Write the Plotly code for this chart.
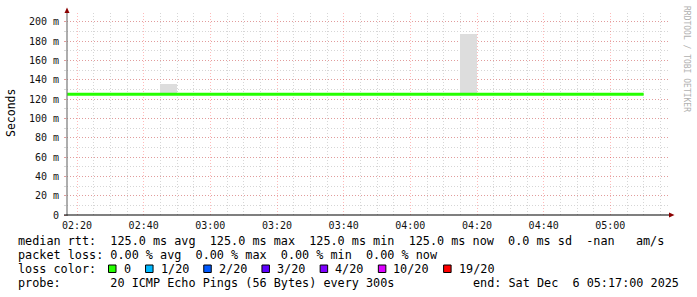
import plotly.graph_objects as go
import pandas as pd

DAY = "2025-12-06 "

# interval start times (5-minute RRD steps)
interval_start = ["02:15", "02:20", "02:25", "02:30", "02:35", "02:40", "02:45", "02:50",
                  "02:55", "03:00", "03:05", "03:10", "03:15", "03:20", "03:25", "03:30",
                  "03:35", "03:40", "03:45", "03:50", "03:55", "04:00", "04:05", "04:10",
                  "04:15", "04:20", "04:25", "04:30", "04:35", "04:40", "04:45", "04:50",
                  "04:55", "05:00", "05:05"]
median_ms = [125.0, 125.0, 125.0, 125.0, 125.0, 125.0, 125.0, 125.0,
             125.0, 125.0, 125.0, 125.0, 125.0, 125.0, 125.0, 125.0,
             125.0, 125.0, 125.0, 125.0, 125.0, 125.0, 125.0, 125.0,
             125.0, 125.0, 125.0, 125.0, 125.0, 125.0, 125.0, 125.0,
             125.0, 125.0, 125.0]
smoke_min_ms = [125.0] * 35
smoke_max_ms = [125.0, 125.0, 125.0, 125.0, 125.0, 125.0, 135.7, 125.0,
                125.0, 125.0, 125.0, 125.0, 125.0, 125.0, 125.0, 125.0,
                125.0, 125.0, 125.0, 125.0, 125.0, 125.0, 125.0, 125.0,
                187.5, 125.0, 125.0, 125.0, 125.0, 125.0, 125.0, 125.0,
                125.0, 125.0, 125.0]
step_minutes = 5

y_tickvals = [0, 20, 40, 60, 80, 100, 120, 140, 160, 180, 200]
y_ticktext = ["0", "20 m", "40 m", "60 m", "80 m", "100 m", "120 m", "140 m",
              "160 m", "180 m", "200 m"]

loss_labels = ["0", "1/20", "2/20", "3/20", "4/20", "10/20", "19/20"]
loss_colors = ["#26ff00", "#00b8ff", "#0059ff", "#5e00ff", "#7e00ff", "#dd00ff", "#ff0000"]

legend_rtt = "median rtt:  125.0 ms avg  125.0 ms max  125.0 ms min  125.0 ms now  0.0 ms sd  -nan   am/s"
legend_loss = "packet loss: 0.00 % avg  0.00 % max  0.00 % min  0.00 % now"
legend_probe = "probe:       20 ICMP Echo Pings (56 Bytes) every 300s"
legend_end = "end: Sat Dec  6 05:17:00 2025"

x_start = pd.Timestamp(DAY + "02:17:00")
x_end = pd.Timestamp(DAY + "05:17:36")

starts = pd.to_datetime([DAY + t for t in interval_start])
step = pd.Timedelta(minutes=step_minutes)
centers = starts + step / 2
line_x = list(starts) + [starts[-1] + step]
line_y = list(median_ms) + [median_ms[-1]]

W, H = 697, 297
L, R, T, B = 67, 28, 13, 82
PW, PH = W - L - R, H - T - B


def px(x):
    return (x - L) / PW


def py(y):
    return (H - B - y) / PH


MONO = "DejaVu Sans Mono"

fig = go.Figure()
fig.add_trace(go.Bar(
    x=centers, y=[a - b for a, b in zip(smoke_max_ms, smoke_min_ms)], base=smoke_min_ms,
    width=step.total_seconds() * 1000, marker=dict(color="#dddddd", line=dict(width=0)),
    showlegend=False, hoverinfo="skip"))
fig.add_trace(go.Scatter(
    x=line_x, y=line_y, mode="lines", line=dict(color="#26ff00", width=3, shape="hv"),
    showlegend=False))

grid_dash = "1px,2px"
MAJ = "rgba(255,0,0,0.27)"
MIN = "#d6d6d6"
fig.update_xaxes(
    type="date", range=[x_start, x_end], tickformat="%H:%M",
    tick0=DAY + "02:20:00", dtick=20 * 60 * 1000,
    showgrid=True, gridcolor=MAJ, griddash=grid_dash, gridwidth=1,
    minor=dict(dtick=5 * 60 * 1000, tick0=DAY + "02:20:00", showgrid=True,
               gridcolor=MIN, griddash=grid_dash, gridwidth=1),
    showline=False, zeroline=False, ticks="", ticklabelstandoff=3,
    tickfont=dict(family=MONO, size=10, color="#111"), fixedrange=True)
fig.update_yaxes(
    range=[0, 209.3], tickvals=y_tickvals, ticktext=y_ticktext,
    showgrid=True, gridcolor=MAJ, griddash=grid_dash, gridwidth=1,
    minor=dict(dtick=10, tick0=0, showgrid=True, gridcolor=MIN,
               griddash=grid_dash, gridwidth=1, ticks="outside", ticklen=2,
               tickcolor=MIN),
    ticks="outside", ticklen=2, tickcolor=MAJ, ticklabelstandoff=3,
    showline=False, zeroline=False,
    tickfont=dict(family=MONO, size=10, color="#111"), fixedrange=True)

shapes = []
# axis lines
shapes.append(dict(type="line", xref="paper", yref="paper", x0=px(67), x1=px(67),
                   y0=py(216), y1=py(12), line=dict(color="#777777", width=1.2)))
shapes.append(dict(type="line", xref="paper", yref="paper", x0=px(64), x1=px(671),
                   y0=py(215), y1=py(215), line=dict(color="#000000", width=1.2)))
# arrows
shapes.append(dict(type="path", xref="paper", yref="paper",
                   path=f"M {px(64.5)} {py(13)} L {px(69.5)} {py(13)} L {px(67)} {py(7.5)} Z",
                   fillcolor="#8b0000", line=dict(width=0)))
shapes.append(dict(type="path", xref="paper", yref="paper",
                   path=f"M {px(669)} {py(212.5)} L {px(669)} {py(217.5)} L {px(674.5)} {py(215)} Z",
                   fillcolor="#8b0000", line=dict(width=0)))

annotations = []
NB = "\u00a0"
LEG_FONT = dict(family=MONO, size=11.8, color="#000")


def add_text(x, y, text, anchor="left", font=LEG_FONT, angle=0):
    annotations.append(dict(xref="paper", yref="paper", x=px(x), y=py(y),
                            text=text.replace(" ", NB), showarrow=False,
                            xanchor=anchor, yanchor="middle", font=font,
                            textangle=angle))


add_text(16, 241.5, legend_rtt)
add_text(16, 255, legend_loss)
add_text(16, 269, "loss color:")
add_text(16, 282.5, legend_probe)
add_text(680.5, 282.5, legend_end, anchor="right")

char_w = 7.05
bx = 108.5
for lab, col in zip(loss_labels, loss_colors):
    shapes.append(dict(type="rect", xref="paper", yref="paper",
                       x0=px(bx), x1=px(bx + 7.5), y0=py(265), y1=py(272.5),
                       fillcolor=col, line=dict(color="#000", width=1)))
    add_text(bx + 13, 269, lab)
    bx += 30 + char_w * len(lab)

add_text(11, 113, "Seconds", anchor="center",
         font=dict(family=MONO, size=11.5, color="#000"), angle=-90)
add_text(686, 59, "RRDTOOL / TOBI OETIKER", anchor="center",
         font=dict(family=MONO, size=8, color="#b0b0b0"), angle=90)

fig.update_layout(
    width=W, height=H, margin=dict(l=L, r=R, t=T, b=B, pad=0),
    paper_bgcolor="white", plot_bgcolor="white", showlegend=False,
    shapes=shapes, annotations=annotations, bargap=0)

fig.write_html("out.html", config={"displayModeBar": False})
